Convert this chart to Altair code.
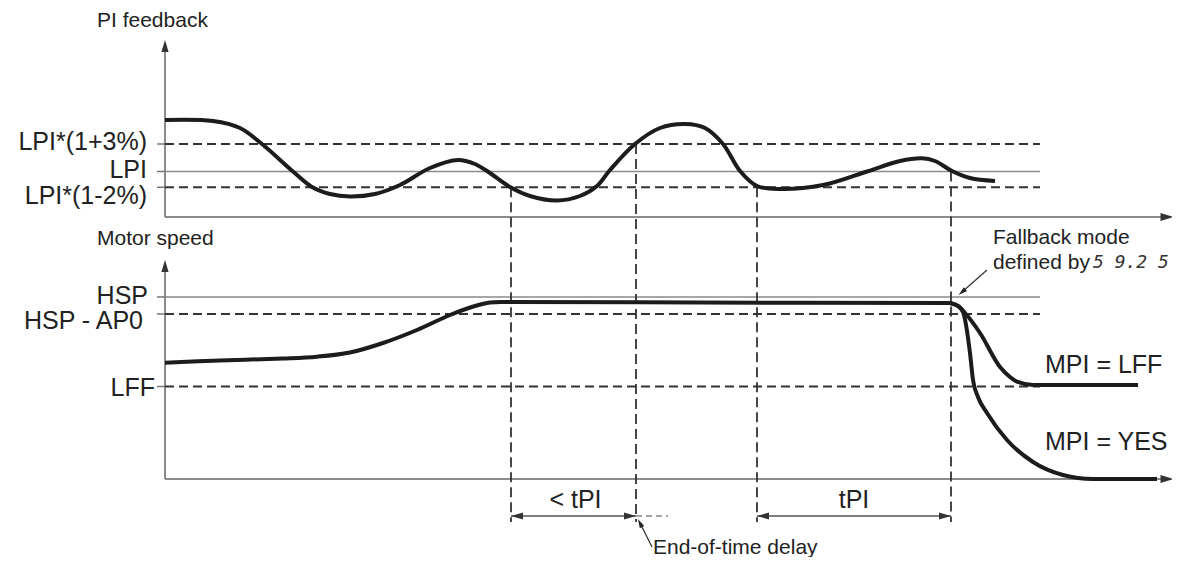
import altair as alt
import pandas as pd

# ---------------- data (diagram units: time -> x, level -> y) ----------------
# PI feedback curve
pi_t = [165, 213, 240, 262, 293, 312, 330, 350, 375, 400, 430, 458, 475, 487, 510, 530, 557,
        580, 597, 610, 635, 660, 685, 705, 723, 740, 757, 780, 823, 867, 900, 922, 935, 952, 970, 995]
pi_v = [120, 121, 128, 144, 171.5, 187, 194, 196.5, 194, 185, 168, 160, 164, 171, 187, 196, 200.5,
        196, 186, 170, 144, 128, 124, 128, 144, 171, 186, 189, 185, 171.5, 161, 158.3, 161, 171, 178, 181]

# Motor speed curve (common part)
ms_t = [165, 220, 283, 317, 350, 383, 417, 450, 475, 490, 510, 700, 950]
ms_v = [362.7, 360.5, 358.5, 356.7, 352.5, 343, 330, 315, 306, 302.5, 302, 302.5, 303]
# Fallback MPI = LFF
lff_t = [950, 958, 965, 980, 1000, 1010, 1017, 1033, 1138]
lff_v = [303, 306, 313, 333, 367, 377, 381.7, 385, 385]
# Fallback MPI = YES
yes_t = [950, 958, 963, 970, 973, 978, 987, 1007, 1033, 1063, 1093, 1157]
yes_v = [303, 306, 312, 353, 380, 397, 413, 440, 462, 475, 479, 479]

# Threshold levels
solid_levels = [171.5, 297]               # LPI, HSP
dashed_levels = [144, 187.3, 314, 386.5]  # LPI*(1+3%), LPI*(1-2%), HSP-AP0, LFF
level_start, level_end, tick_start = 165, 1040, 157

# Time markers (vertical dashed)
mark_t = [511, 636, 757, 951]
mark_top = [187.3, 144, 187.3, 171.5]
mark_bottom = 522

# Axes
axis_x0, axis_x1 = 165, 1166
top_axis_y, top_axis_tip = 217, 40
bot_axis_y, bot_axis_tip = 479, 260

# Delay arrows
delay_y = 516
delay_from = [511, 757]
delay_to = [636, 951]
delay_ext = [636, 668]

# Annotation pointers: (from, to)
ptr_x0 = [987, 652]
ptr_y0 = [270, 547]
ptr_x1 = [962, 640]
ptr_y1 = [292, 523]
ptr_angle = [138.7, 243.4]

# Texts
left_labels = ["LPI*(1+3%)", "LPI", "LPI*(1-2%)", "HSP", "HSP - AP0", "LFF"]
left_label_x = [147, 147, 147, 148, 143, 155]
left_label_y = [142, 170, 196, 296, 321, 388]

titles = ["PI feedback", "Motor speed"]
title_x = [97, 97]
title_y = [21, 239]

mpi_labels = ["MPI = LFF", "MPI = YES"]
mpi_x = [1045, 1045]
mpi_y = [365, 442]

delay_labels = ["< tPI", "tPI"]
delay_label_x = [575.5, 854]
delay_label_y = [500, 500]

note_labels = ["Fallback mode", "defined by", "End-of-time delay"]
note_x = [993, 993, 653]
note_y = [238, 263, 548]
code_label = "5 9.2 5"
code_x, code_y = 1093, 263

# ---------------- chart ----------------
W, H = 1164, 549
xs = alt.Scale(domain=[8, 8 + W], nice=False, zero=False)
ys = alt.Scale(domain=[8, 8 + H], nice=False, zero=False, reverse=True)
FONT = "Liberation Sans"


def X(f="x"):
    return alt.X(f"{f}:Q", scale=xs, axis=None)


def Y(f="y"):
    return alt.Y(f"{f}:Q", scale=ys, axis=None)


def curve(ts, vs, interp):
    df = pd.DataFrame({"x": ts, "y": vs})
    return alt.Chart(df).mark_line(
        interpolate=interp, strokeWidth=4, color="#1c1c1c", strokeCap="butt"
    ).encode(x=X(), y=Y(), order="x:Q")


curves = [
    curve(pi_t, pi_v, "catmull-rom"),
    curve(ms_t, ms_v, "catmull-rom"),
    curve(lff_t, lff_v, "monotone"),
    curve(yes_t, yes_v, "monotone"),
]

# axes
axes_df = pd.DataFrame({
    "x": [axis_x0, axis_x0, axis_x0, axis_x0],
    "x2": [axis_x0, axis_x1, axis_x0, axis_x1],
    "y": [top_axis_tip + 6, top_axis_y, bot_axis_tip + 6, bot_axis_y],
    "y2": [top_axis_y, top_axis_y, bot_axis_y, bot_axis_y],
})
axes = alt.Chart(axes_df).mark_rule(color="#666666", strokeWidth=1.5).encode(
    x=X(), x2="x2:Q", y=Y(), y2="y2:Q")

up_heads = alt.Chart(pd.DataFrame({"x": [axis_x0, axis_x0],
                                   "y": [top_axis_tip + 6, bot_axis_tip + 6]})).mark_point(
    shape="M0,-1L0.6,1L-0.6,1Z", size=144, filled=True, color="#333333", opacity=1
).encode(x=X(), y=Y())
right_heads = alt.Chart(pd.DataFrame({"x": [axis_x1 + 1, axis_x1 + 1],
                                      "y": [top_axis_y, bot_axis_y]})).mark_point(
    shape="M1,0L-1,-0.6L-1,0.6Z", size=169, filled=True, color="#333333", opacity=1
).encode(x=X(), y=Y())

# thresholds
all_levels = solid_levels + dashed_levels
ticks = alt.Chart(pd.DataFrame({"x": [tick_start] * len(all_levels), "x2": [level_start] * len(all_levels),
                                "y": all_levels})).mark_rule(color="#777777", strokeWidth=1.5).encode(
    x=X(), x2="x2:Q", y=Y())
solid = alt.Chart(pd.DataFrame({"x": [level_start] * len(solid_levels), "x2": [level_end] * len(solid_levels),
                                "y": solid_levels})).mark_rule(color="#8a8a8a", strokeWidth=1.5).encode(
    x=X(), x2="x2:Q", y=Y())
dashed = alt.Chart(pd.DataFrame({"x": [level_start] * len(dashed_levels), "x2": [level_end] * len(dashed_levels),
                                 "y": dashed_levels})).mark_rule(
    color="#333333", strokeWidth=2, strokeDash=[9, 5]).encode(x=X(), x2="x2:Q", y=Y())

# vertical markers
vlines = alt.Chart(pd.DataFrame({"x": mark_t, "y": mark_top, "y2": [mark_bottom] * len(mark_t)})).mark_rule(
    color="#333333", strokeWidth=1.8, strokeDash=[10, 5]).encode(x=X(), y=Y(), y2="y2:Q")

# delay arrows
delay_lines = alt.Chart(pd.DataFrame({"x": delay_from, "x2": delay_to, "y": [delay_y] * 2})).mark_rule(
    color="#555555", strokeWidth=1.5).encode(x=X(), x2="x2:Q", y=Y())
delay_dash = alt.Chart(pd.DataFrame({"x": [delay_ext[0]], "x2": [delay_ext[1]], "y": [delay_y]})).mark_rule(
    color="#888888", strokeWidth=1.5, strokeDash=[6, 4]).encode(x=X(), x2="x2:Q", y=Y())
left_heads = alt.Chart(pd.DataFrame({"x": [t + 6 for t in delay_from], "y": [delay_y] * 2})).mark_point(
    shape="M-1,0L1,-0.6L1,0.6Z", size=144, filled=True, color="#333333", opacity=1).encode(x=X(), y=Y())
rheads = alt.Chart(pd.DataFrame({"x": [t - 6 for t in delay_to], "y": [delay_y] * 2})).mark_point(
    shape="M1,0L-1,-0.6L-1,0.6Z", size=144, filled=True, color="#333333", opacity=1).encode(x=X(), y=Y())

# pointer arrows
ptr_df = pd.DataFrame({"x": ptr_x0, "y": ptr_y0, "x2": ptr_x1, "y2": ptr_y1, "a": ptr_angle})
ptr_lines = alt.Chart(ptr_df).mark_rule(color="#333333", strokeWidth=1.2).encode(
    x=X(), y=Y(), x2="x2:Q", y2="y2:Q")
ptr_heads = alt.Chart(ptr_df).mark_point(
    shape="M1,0L-1,-0.55L-1,0.55Z", size=81, filled=True, color="#222222", opacity=1
).encode(x=X("x2"), y=Y("y2"), angle=alt.Angle("a:Q", scale=None))


# texts
def texts(labels, xsv, ysv, align, size, **kw):
    df = pd.DataFrame({"x": xsv, "y": ysv, "t": labels})
    return alt.Chart(df).mark_text(align=align, baseline="middle", fontSize=size, font=FONT,
                                   color="#222222", **kw).encode(x=X(), y=Y(), text="t:N")


t_left = texts(left_labels, left_label_x, left_label_y, "right", 25)
t_titles = texts(titles, title_x, title_y, "left", 21)
t_mpi = texts(mpi_labels, mpi_x, mpi_y, "left", 25)
t_delay = texts(delay_labels, delay_label_x, delay_label_y, "center", 25)
t_notes = texts(note_labels, note_x, note_y, "left", 21)
t_code = alt.Chart(pd.DataFrame({"x": [code_x], "y": [code_y], "t": [code_label]})).mark_text(
    align="left", baseline="middle", fontSize=18, font="DejaVu Sans Mono", fontStyle="italic",
    color="#333333").encode(x=X(), y=Y(), text="t:N")

chart = alt.layer(
    axes, ticks, solid, dashed, vlines, delay_lines, delay_dash, *curves,
    up_heads, right_heads, left_heads, rheads, ptr_lines, ptr_heads,
    t_left, t_titles, t_mpi, t_delay, t_notes, t_code
).properties(
    width=W, height=H, padding=0, autosize=alt.AutoSizeParams(type="none")
).configure_view(stroke=None)

chart.save("out.html", embed_options={"renderer": "svg", "actions": False})
